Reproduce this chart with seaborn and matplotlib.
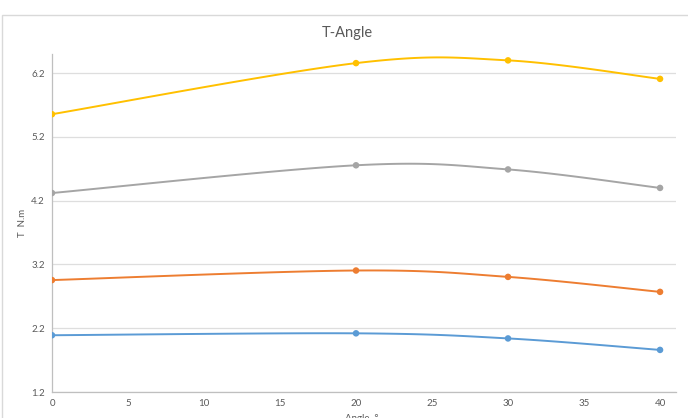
import numpy as np
import pandas as pd
import matplotlib
matplotlib.use("Agg")
import matplotlib.pyplot as plt
import seaborn as sns
from matplotlib.patches import Rectangle

# ---- data ----
angles = [0, 20, 30, 40]
series_names = ["S1", "S2", "S3", "S4"]
s1 = [2.09, 2.12, 2.04, 1.86]
s2 = [2.955, 3.105, 3.005, 2.77]
s3 = [4.32, 4.755, 4.69, 4.40]
s4 = [5.556, 6.357, 6.40, 6.11]
colors = ["#5B9BD5", "#ED7D31", "#A5A5A5", "#FFC000"]
x_ticks = [0, 5, 10, 15, 20, 25, 30, 35, 40]
y_ticks = [1.2, 2.2, 3.2, 4.2, 5.2, 6.2]
title = "T-Angle"
ylabel = "T  N.m"
xlabel = "Angle  °"

df = pd.DataFrame({
    "angle": angles * 4,
    "T": s1 + s2 + s3 + s4,
    "series": sum([[n] * len(angles) for n in series_names], []),
})

sns.set_theme(style="white")
plt.rcParams["font.family"] = ["Lato", "DejaVu Sans"]

W, H = 688, 418
fig = plt.figure(figsize=(W / 100, H / 100), dpi=100)
ax = fig.add_axes([52 / W, (H - 392) / H, (676 - 52) / W, (392 - 54) / H])


def smooth(xs, ys, n=40):
    """Excel-style Bezier smoothing through the given points (rendering only)."""
    xs = np.asarray(xs, float)
    ys = np.asarray(ys, float)
    P = np.column_stack([xs, ys])
    out = []
    for i in range(len(P) - 1):
        p0 = P[i - 1] if i > 0 else P[i]
        p1, p2 = P[i], P[i + 1]
        p3 = P[i + 2] if i + 2 < len(P) else P[i + 1]
        c1 = p1 + (p2 - p0) / 6
        c2 = p2 - (p3 - p1) / 6
        t = np.linspace(0, 1, n)[:, None]
        seg = ((1 - t) ** 3) * p1 + 3 * ((1 - t) ** 2) * t * c1 + 3 * (1 - t) * t ** 2 * c2 + t ** 3 * p2
        out.append(seg if i == 0 else seg[1:])
    out = np.vstack(out)
    return out[:, 0], out[:, 1]


for name, col in zip(series_names, colors):
    sub = df[df["series"] == name]
    sx, sy = smooth(sub["angle"], sub["T"])
    ax.plot(sx, sy, color=col, lw=1.4, solid_capstyle="round", zorder=3)

sns.scatterplot(data=df, x="angle", y="T", hue="series", palette=colors,
                s=22, edgecolor="none", legend=False, ax=ax, zorder=4)

ax.set_xlim(0, 41.05)
ax.set_ylim(1.2, 6.5)
ax.set_xticks(x_ticks)
ax.set_yticks(y_ticks)
ax.set_xticklabels([str(v) for v in x_ticks])
ax.set_yticklabels([f"{v:.1f}" for v in y_ticks])
ax.tick_params(axis="both", length=0, labelsize=7, colors="#595959", pad=5)
ax.yaxis.grid(True, color="#DEDEDE", lw=0.9)
ax.xaxis.grid(False)
for side in ["top", "right"]:
    ax.spines[side].set_visible(False)
for side in ["left", "bottom"]:
    ax.spines[side].set_color("#BFBFBF")
    ax.spines[side].set_linewidth(0.9)
ax.set_xlabel("")
ax.set_ylabel("")

fig.text(347 / W, (H - 33) / H, title, ha="center", va="center",
         fontsize=10.5, color="#595959")
fig.text(22.5 / W, (H - 223) / H, ylabel, rotation=90, ha="center", va="center",
         fontsize=7, color="#595959")
fig.text(362 / W, (H - 414) / H, xlabel, ha="center", va="top",
         fontsize=7, color="#595959")

fig.patches.append(Rectangle((2 / W, -0.1), 1.0, (H - 15) / H + 0.1,
                             transform=fig.transFigure, fill=False,
                             edgecolor="#D9D9D9", lw=1.0))

fig.savefig("out.png", dpi=100)
